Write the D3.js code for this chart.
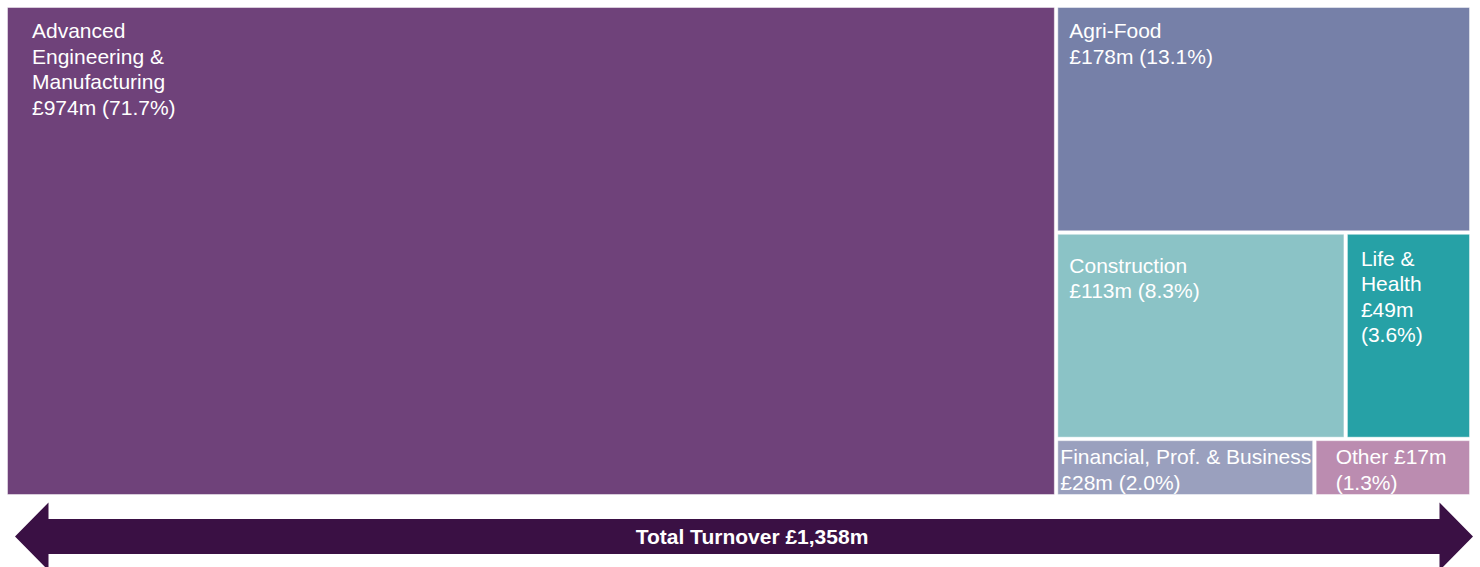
<!DOCTYPE html>
<html><head><meta charset="utf-8">
<script src="https://cdn.jsdelivr.net/npm/d3@7"></script>
<style>html,body{margin:0;padding:0;background:#fff;}svg{display:block;}</style>
</head><body>
<svg id="chart" width="1480" height="567"></svg>
<script>
// ---- data ----
const categories = ["Advanced Engineering & Manufacturing","Agri-Food","Construction","Life & Health","Financial, Prof. & Business","Other"];
const values = [974, 178, 113, 49, 28, 17];          // £m
const percents = ["71.7","13.1","8.3","3.6","2.0","1.3"];
const groups = [0, 1, 2, 2, 3, 3];                    // nesting groups for layout
const totalLabel = "Total Turnover £1,358m";
// label line breaking as in the source
const nameLines = [["Advanced","Engineering &","Manufacturing"],["Agri-Food"],["Construction"],["Life &","Health"],["Financial, Prof. & Business"],[]];
const wrapModes = ["value","value","value","split","value","inline"];

// ---- styles ----
const colors = ["#6F427A","#7680A8","#8BC3C6","#26A1A6","#9AA0BE","#BB8CB0"];
const labelPad = [[25,31],[12,31],[12,39],[14,32],[3,24],[20,24]];
const arrowColor = "#3A1044";
const W = 1480, H = 567;
const box = {x:7, y:7, w:1463, h:488};
const fontFam = "'Liberation Sans', Arial, sans-serif";

const svg = d3.select("#chart");

// build nested hierarchy: root -> [leaf0, rest -> [leaf1, g2 -> [..], g3 -> [..]]]
const leaves = categories.map((c,i)=>({name:c, value:values[i], i}));
const byGroup = d3.group(leaves, d=>groups[d.i]);
const restChildren = [];
byGroup.forEach((arr,g)=>{ if(g>0){ restChildren.push(arr.length===1?arr[0]:{name:"g"+g, children:arr}); } });
const rootData = {name:"root", children:[byGroup.get(0)[0], {name:"rest", children:restChildren}]};

const root = d3.hierarchy(rootData).sum(d=>d.value||0);
d3.treemap().tile(d3.treemapSliceDice).size([box.w, box.h]).paddingInner(2.5).round(false)(root);

const g = svg.append("g").attr("transform",`translate(${box.x},${box.y})`);
const leafNodes = root.leaves();

g.selectAll("rect").data(leafNodes).join("rect")
  .attr("x",d=>d.x0+0.5).attr("y",d=>d.y0+0.5)
  .attr("width",d=>d.x1-d.x0-1).attr("height",d=>d.y1-d.y0-1)
  .attr("fill",d=>colors[d.data.i])
  .attr("stroke","rgba(255,255,255,0.45)").attr("stroke-width",1);

function linesFor(i){
  const v = `£${values[i]}m`, p = `(${percents[i]}%)`;
  if(wrapModes[i]==="value") return [...nameLines[i], `${v} ${p}`];
  if(wrapModes[i]==="split") return [...nameLines[i], v, p];
  return [`${categories[i]} ${v}`, p];
}

const lh = 25.5;
leafNodes.forEach(d=>{
  const i = d.data.i;
  const t = g.append("text")
    .attr("fill","#fff")
    .style("font-family",fontFam)
    .style("font-size","21px");
  linesFor(i).forEach((ln,k)=>{
    t.append("tspan").attr("x", d.x0 + labelPad[i][0]).attr("y", d.y0 + labelPad[i][1] + k*lh).text(ln);
  });
});

// double-headed arrow
const ax0 = 15, ax1 = 1473, cy = 536.5, bh = 17.5, hh = 34, hw = 33.5;
const arrowPts = [[ax0,cy],[ax0+hw,cy-hh],[ax0+hw,cy-bh],[ax1-hw,cy-bh],[ax1-hw,cy-hh],[ax1,cy],[ax1-hw,cy+hh],[ax1-hw,cy+bh],[ax0+hw,cy+bh],[ax0+hw,cy+hh]];
svg.append("path").attr("d", d3.line()(arrowPts)+"Z").attr("fill",arrowColor);
svg.append("text").attr("x",752).attr("y",cy+7.5).attr("text-anchor","middle")
  .attr("fill","#fff").style("font-family",fontFam)
  .style("font-size","21px").style("font-weight","bold").text(totalLabel);
</script>
</body></html>
